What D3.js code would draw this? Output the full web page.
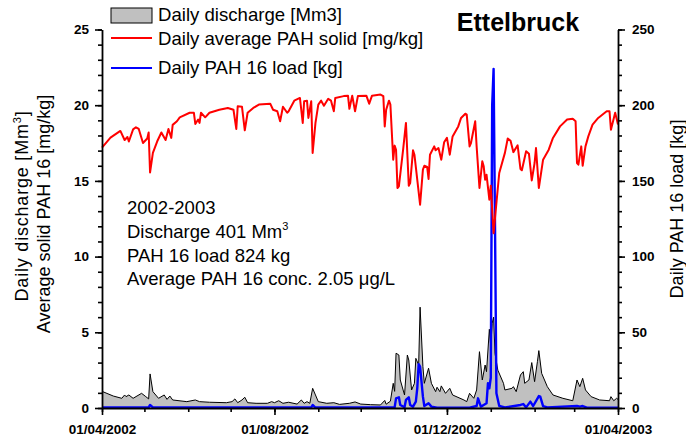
<!DOCTYPE html>
<html><head><meta charset="utf-8">
<script src="https://cdn.jsdelivr.net/npm/d3@7"></script>
<style>body{margin:0;background:#fff}svg{display:block;font-family:"Liberation Sans",Arial,sans-serif}</style>
</head><body><svg id="c" width="686" height="438"></svg>
<script>
// ---- data (day offset from 01/04/2002, value) ----
const startDate = "2002-04-01";
const endDate = "2003-04-01";
const xLabelMonths = ["2002-04-01","2002-08-01","2002-12-01","2003-04-01"];
const leftMajorTicks = [0,5,10,15,20,25];
const rightMajorTicks = [0,50,100,150,200,250];

// Daily discharge [Mm3]
const discharge = [[0,1.1],[8,0.79],[14,0.64],[16,0.86],[17,0.75],[19,0.86],[22,0.64],[28,0.97],[31,0.75],[33,0.6],[34,2.25],[36,1.08],[40,0.64],[44,0.86],[46,0.57],[48,0.79],[50,0.53],[60,0.42],[66,0.53],[69,0.42],[76,0.38],[88,0.35],[92,0.42],[94,0.6],[96,0.35],[99,0.53],[101,0.71],[103,0.35],[109,0.31],[117,0.31],[120,0.42],[122,0.35],[125,0.48],[128,0.31],[132,0.38],[138,0.26],[141,0.53],[143,0.31],[145,0.42],[147,0.31],[149,1.3],[151,0.86],[153,0.42],[159,0.31],[164,0.35],[168,0.24],[175,0.31],[179,0.4],[183,0.26],[190,0.22],[197,0.2],[200,0.5],[201,0.25],[204,0.45],[206,1.63],[207,1.1],[208,3.62],[210,3.5],[211,1.85],[214,0.86],[216,3.5],[217,3.17],[219,1.19],[221,1.63],[222,3.28],[224,2.84],[225,6.66],[227,2.73],[228,1.63],[231,2.63],[233,1.63],[236,1.08],[237,1.37],[239,1.08],[240,1.46],[243,0.97],[246,1.3],[248,0.86],[256,0.53],[258,0.42],[260,0.97],[263,0.64],[265,1.19],[267,3.72],[269,1.85],[271,2.84],[272,2.4],[274,5.2],[275,4.05],[276,5.6],[277,6.0],[278,3.6],[280,2.5],[284,1.63],[285,1.19],[290,1.3],[291,1.41],[293,1.08],[296,2.18],[298,2.4],[299,1.63],[302,1.85],[304,3.0],[306,1.74],[308,3.06],[309,3.79],[311,2.29],[315,1.41],[319,0.86],[326,0.64],[333,0.48],[336,1.85],[338,1.41],[340,1.96],[342,1.19],[346,0.75],[352,0.53],[359,0.48],[360,0.75],[362,0.48],[364,0.64],[365,0.57]];

// Daily average PAH solid [mg/kg]
const pahSolid = [[0,17.2],[6,17.86],[13,18.3],[16,17.7],[18,17.9],[19,17.6],[22,18.4],[24,18.54],[26,18.43],[29,17.5],[32,17.8],[33,18.2],[34,15.56],[36,16.85],[39,17.6],[42,18.2],[45,17.7],[47,18.43],[49,17.84],[50,18.7],[53,18.94],[55,19.2],[62,19.5],[65,19.5],[66,18.76],[68,19.05],[69,18.83],[70,19.5],[73,19.2],[76,19.5],[83,19.7],[89,19.82],[93,19.7],[95,18.43],[96,19.93],[99,19.9],[101,18.34],[103,19.5],[107,19.82],[111,20.04],[119,20.1],[121,19.7],[124,19.6],[126,18.94],[128,19.9],[131,19.5],[132,19.6],[136,20.3],[140,20.48],[142,18.83],[143,20.26],[145,20.3],[146,19.16],[148,20.26],[149,16.85],[151,18.83],[153,20.04],[155,20.3],[157,19.97],[160,20.42],[162,20.3],[164,19.6],[165,20.48],[171,20.6],[174,20.63],[175,19.76],[177,20.63],[179,19.6],[181,20.6],[187,20.63],[189,20.1],[191,20.63],[197,20.7],[199,20.6],[200,18.6],[201,19.7],[203,20.3],[204,20.04],[206,16.4],[207,17.33],[208,17.06],[209,14.53],[210,14.64],[213,17.06],[215,18.83],[217,14.68],[218,14.86],[220,17.02],[221,16.73],[223,15.08],[225,13.43],[227,15.74],[228,16.0],[230,15.92],[231,15.13],[232,16.73],[235,17.28],[236,17.02],[238,17.17],[240,16.4],[242,17.55],[244,17.84],[246,16.73],[248,17.94],[252,18.6],[254,19.16],[257,19.44],[258,19.38],[260,17.28],[261,17.5],[264,18.94],[265,17.28],[267,14.53],[269,16.29],[270,15.96],[271,15.08],[272,15.41],[274,13.76],[275,14.68],[277,11.55],[279,13.54],[281,15.52],[285,16.85],[287,17.8],[289,17.65],[291,16.9],[294,17.35],[296,15.79],[297,15.7],[300,16.96],[302,16.8],[304,15.03],[306,16.18],[307,17.17],[309,14.53],[312,16.4],[314,16.73],[316,17.06],[319,17.84],[324,18.6],[329,19.05],[333,19.11],[335,18.94],[336,16.18],[337,16.07],[339,17.28],[340,16.0],[342,17.28],[344,17.94],[347,18.72],[351,19.16],[357,19.6],[359,19.6],[360,18.38],[363,19.5],[365,18.72]];

// Daily PAH 16 load [kg]
const pahLoad = [[0,0.4],[33,0.4],[34,2.0],[36,0.4],[148,0.3],[149,2.0],[151,0.3],[207,0.4],[208,6.4],[210,7.1],[211,2.0],[214,0.5],[215,5.3],[217,7.1],[218,2.0],[220,0.9],[222,4.2],[223,13],[224,29],[225,27.3],[227,7.5],[228,1.3],[231,3.1],[233,0.9],[237,0.2],[260,0.2],[265,1.3],[266,6.4],[268,0.9],[270,2.0],[272,3.1],[273,16.3],[274,13],[275,20],[276,200],[277,224],[278,120],[279,9.7],[281,1.3],[285,0.4],[296,2.0],[298,2.6],[300,0.4],[303,4.2],[305,1.3],[309,7.9],[310,7.5],[312,1.3],[315,0.4],[336,1.3],[338,0.9],[340,1.3],[343,0.2],[365,0.2]];

const legendLabels = ["Daily discharge [Mm3]","Daily average PAH solid [mg/kg]","Daily PAH 16 load [kg]"];
const titleText = "Ettelbruck";
const annotationLines = ["2002-2003","Discharge 401 Mm","PAH 16 load 824 kg","Average PAH 16 conc. 2.05 \u03bcg/L"];

// ---- chart ----
const svg = d3.select("#c");
const X0 = 102, X1 = 618, Y0 = 408, Y1 = 29.5;
const parse = d3.utcParse("%Y-%m-%d");
const t0 = parse(startDate), t1 = parse(endDate);
const dayDate = d => d3.utcDay.offset(t0, d);

const x = d3.scaleUtc().domain([t0, t1]).range([X0, X1]);
const yL = d3.scaleLinear().domain([0, 25]).range([Y0, Y1]);
const yR = d3.scaleLinear().domain([0, 250]).range([Y0, Y1]);

// discharge area
const area = d3.area().x(d => x(dayDate(d[0]))).y0(yL(0)).y1(d => yL(d[1]));
svg.append("path").datum(discharge).attr("d", area).attr("fill", "#c0c0c0");
const lineQ = d3.line().x(d => x(dayDate(d[0]))).y(d => yL(d[1]));
svg.append("path").datum(discharge).attr("d", lineQ).attr("fill", "none").attr("stroke", "#000").attr("stroke-width", 1);

// load (blue) on right axis
const lineL = d3.line().x(d => x(dayDate(d[0]))).y(d => yR(d[1]));
svg.append("path").datum(pahLoad).attr("d", lineL).attr("fill", "none").attr("stroke", "#0000ff").attr("stroke-width", 2.4).attr("stroke-linejoin", "round");

// PAH solid (red)
const lineP = d3.line().x(d => x(dayDate(d[0]))).y(d => yL(d[1]));
svg.append("path").datum(pahSolid).attr("d", lineP).attr("fill", "none").attr("stroke", "#ff0000").attr("stroke-width", 2).attr("stroke-linejoin", "round");

// axes
function styleAxis(g) {
  g.selectAll("path.domain").attr("stroke", "#000").attr("stroke-width", 1.8);
  g.selectAll(".tick line").attr("stroke", "#000").attr("stroke-width", 1.6);
  g.selectAll("text").attr("font-family", '"Liberation Sans",Arial,sans-serif').attr("font-weight", "bold").attr("font-size", "13.5px").attr("fill", "#000");
}
// left
const gl1 = svg.append("g").attr("transform", `translate(${X0},0)`)
  .call(d3.axisLeft(yL).tickValues(d3.range(0, 26, 1)).tickSize(4).tickSizeOuter(0).tickFormat(""));
styleAxis(gl1);
const gl2 = svg.append("g").attr("transform", `translate(${X0},0)`)
  .call(d3.axisLeft(yL).tickValues(leftMajorTicks).tickSize(7).tickPadding(6).tickSizeOuter(0));
styleAxis(gl2); gl2.select("path.domain").remove();
// right
const gr1 = svg.append("g").attr("transform", `translate(${X1},0)`)
  .call(d3.axisRight(yR).tickValues(d3.range(0, 251, 10)).tickSize(4).tickSizeOuter(0).tickFormat(""));
styleAxis(gr1);
const gr2 = svg.append("g").attr("transform", `translate(${X1},0)`)
  .call(d3.axisRight(yR).tickValues(rightMajorTicks).tickSize(7).tickPadding(7).tickSizeOuter(0));
styleAxis(gr2); gr2.select("path.domain").remove();
// bottom
const gb1 = svg.append("g").attr("transform", `translate(0,${Y0})`)
  .call(d3.axisBottom(x).ticks(d3.utcMonth.every(1)).tickSize(4).tickSizeOuter(0).tickFormat(""));
styleAxis(gb1);
const gb2 = svg.append("g").attr("transform", `translate(0,${Y0})`)
  .call(d3.axisBottom(x).tickValues(xLabelMonths.map(parse)).tickSize(7).tickPadding(9).tickSizeOuter(0).tickFormat(d3.utcFormat("%d/%m/%Y")));
styleAxis(gb2); gb2.select("path.domain").remove();

// axis titles
const font = '"Liberation Sans",Arial,sans-serif';
const t1a = svg.append("text").attr("transform", "translate(28,206) rotate(-90)").attr("text-anchor", "middle")
  .attr("font-family", font).attr("font-size", "18px").attr("letter-spacing", "0.8px");
t1a.append("tspan").text("Daily discharge [Mm");
t1a.append("tspan").attr("font-size", "11px").attr("dy", "-7").text("3");
t1a.append("tspan").attr("dy", "7").text("]");
svg.append("text").attr("transform", "translate(50,214) rotate(-90)").attr("text-anchor", "middle")
  .attr("font-family", font).attr("font-size", "18px").text("Average solid PAH 16 [mg/kg]");
svg.append("text").attr("transform", "translate(683,209) rotate(-90)").attr("text-anchor", "middle")
  .attr("font-family", font).attr("font-size", "18px").text("Daily PAH 16 load [kg]");

// title
svg.append("text").attr("x", 518).attr("y", 31).attr("text-anchor", "middle")
  .attr("font-family", font).attr("font-weight", "bold").attr("font-size", "25px").text(titleText);

// legend
const lg = svg.append("g").attr("font-family", font).attr("font-size", "18.6px");
lg.append("rect").attr("x", 111).attr("y", 8).attr("width", 41).attr("height", 15).attr("fill", "#c0c0c0").attr("stroke", "#000").attr("stroke-width", 1);
lg.append("line").attr("x1", 111).attr("x2", 152).attr("y1", 38).attr("y2", 38).attr("stroke", "#ff0000").attr("stroke-width", 2);
lg.append("line").attr("x1", 111).attr("x2", 152).attr("y1", 68).attr("y2", 68).attr("stroke", "#0000ff").attr("stroke-width", 2);
const lgY = [21, 44.5, 74];
legendLabels.forEach((s, i) => lg.append("text").attr("x", 158).attr("y", lgY[i]).text(s));

// annotation
const an = svg.append("g").attr("font-family", font).attr("font-size", "18.5px");
const anY = [214, 238, 262, 285];
annotationLines.forEach((s, i) => {
  const t = an.append("text").attr("x", 127).attr("y", anY[i]).text(s);
  if (i === 1) t.append("tspan").attr("font-size", "11px").attr("dy", "-8").text("3");
});
</script></body></html>
